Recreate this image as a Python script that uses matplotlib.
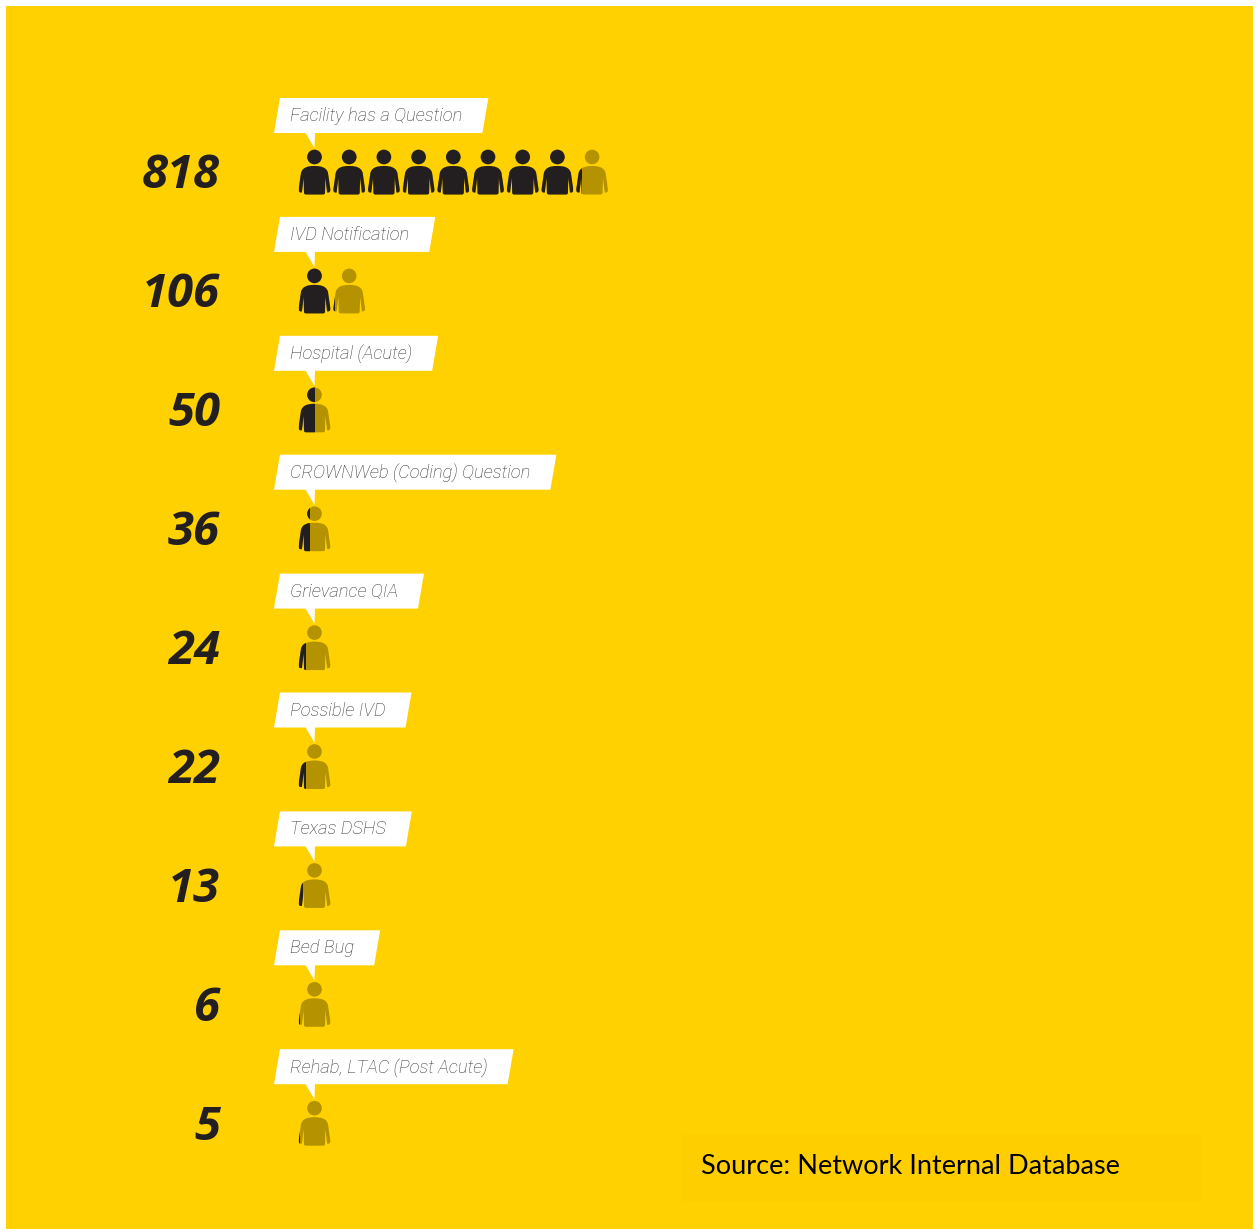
import matplotlib
matplotlib.use("Agg")
import matplotlib.pyplot as plt
from matplotlib.path import Path
from matplotlib.patches import PathPatch, Polygon, Rectangle
from matplotlib.transforms import Affine2D

categories = ["Facility has a Question", "IVD Notification", "Hospital (Acute)",
              "CROWNWeb (Coding) Question", "Grievance QIA", "Possible IVD",
              "Texas DSHS", "Bed Bug", "Rehab, LTAC (Post Acute)"]
counts = [818, 106, 50, 36, 24, 22, 13, 6, 5]
people_per_icon = 100

YELLOW = "#FFD100"
SOURCE_BG = "#FFCE00"
DARK = "#231F20"
OLIVE = "#B59300"
LABEL = "#383838"

ROW_STEP = 118.9
FIRST_ROW = 98
ICON_X = 314.5
ICON_STEP = 34.7
ICON_WIDTH = 32


def person_path():
    # right half of the silhouette, the left half is its mirror image
    verts = [(0, 17), (7, 17), (12, 18.5), (13.5, 24), (15.8, 40), (16.2, 43.5), (13.8, 43.5),
             (12.6, 43.5), (10.9, 29), (10.5, 44), (10.3, 45.5), (8.5, 45.5), (0, 45.5)]
    codes = [Path.MOVETO, Path.CURVE4, Path.CURVE4, Path.CURVE4, Path.LINETO, Path.CURVE3,
             Path.CURVE3, Path.LINETO, Path.LINETO, Path.LINETO, Path.CURVE3, Path.CURVE3,
             Path.LINETO]
    left = [(-x, y) for x, y in verts[-2::-1]]
    left_codes = codes[:0:-1]
    body = Path(verts + left, codes + left_codes)
    head = Path.circle((0, 8), 7.3)
    return Path.make_compound_path(head, body)


fig = plt.figure(figsize=(12.56, 12.29), dpi=100, facecolor="white")
ax = fig.add_axes([0, 0, 1, 1])
ax.set_xlim(0, 1256)
ax.set_ylim(1229, 0)
ax.axis("off")

ax.add_patch(Rectangle((6, 6), 1247, 1223, color=YELLOW, lw=0))
ax.add_patch(Rectangle((682, 1134), 520, 68, color=SOURCE_BG, lw=0))

person = person_path()
renderer = fig.canvas.get_renderer()

for i, (name, count) in enumerate(zip(categories, counts)):
    top = FIRST_ROW + i * ROW_STEP

    label = ax.text(290, top + 18, name, family=["Roboto", "DejaVu Sans"], style="italic",
                    weight="light", fontsize=13.2, color=LABEL, va="center", ha="left", zorder=3)
    right = label.get_window_extent(renderer).x1 + 26

    # speech bubble behind the category name
    ax.add_patch(Polygon([(280, top), (right, top), (right - 6, top + 35), (274, top + 35)],
                         closed=True, color="white", lw=0, zorder=2))
    ax.add_patch(Polygon([(305, top + 34), (315, top + 34), (314.5, top + 50)],
                         closed=True, color="white", lw=0, zorder=2))

    ax.text(220, top + 78, str(count), family=["Open Sans", "DejaVu Sans"],
            style="italic", weight="bold", fontsize=34, color=DARK, va="center", ha="right")

    # each icon stands for 100 people, the dark part shows how much of it is filled
    n_icons = count // people_per_icon + 1
    for k in range(n_icons):
        x = ICON_X + k * ICON_STEP
        fill = min(1, max(0, count / people_per_icon - k))
        tr = Affine2D().translate(x, top + 51) + ax.transData
        ax.add_patch(PathPatch(person, facecolor=OLIVE, lw=0, transform=tr, zorder=3))
        dark = PathPatch(person, facecolor=DARK, lw=0, transform=tr, zorder=4)
        ax.add_patch(dark)
        dark.set_clip_path(Rectangle((x - ICON_WIDTH / 2, top + 40), ICON_WIDTH * fill, 70,
                                     transform=ax.transData))

ax.text(701, 1166, "Source: Network Internal Database", family=["Lato", "DejaVu Sans"],
        fontsize=19.5, color="black", va="center", ha="left")

fig.savefig("out.png", dpi=100)
